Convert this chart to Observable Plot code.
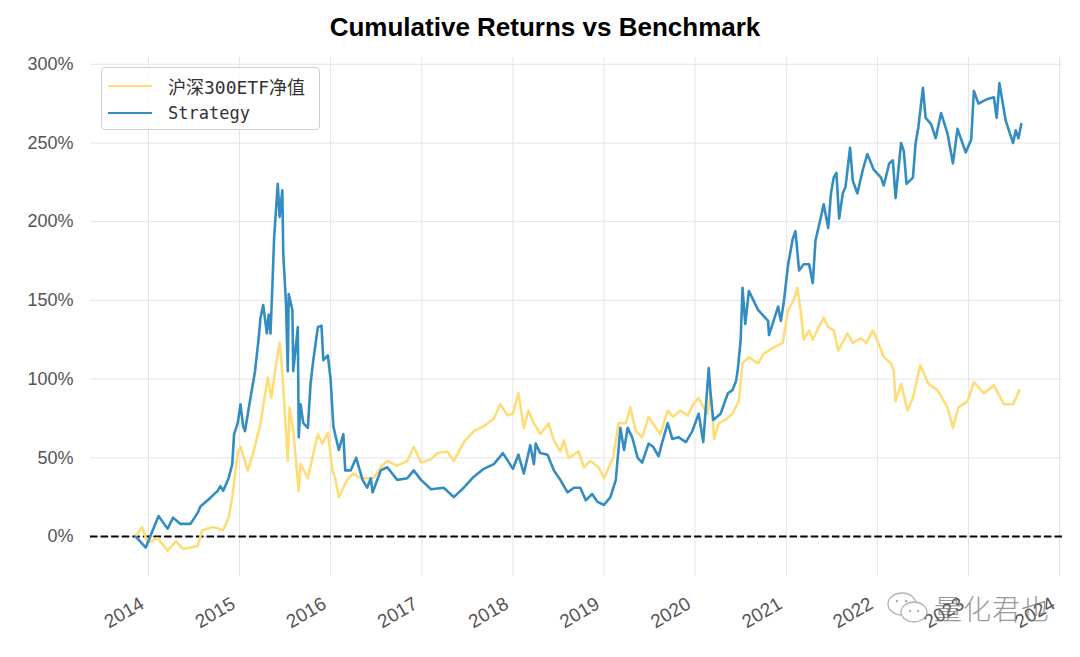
<!DOCTYPE html>
<html>
<head>
<meta charset="utf-8">
<script src="https://cdn.jsdelivr.net/npm/d3@7"></script>
<script src="https://cdn.jsdelivr.net/npm/@observablehq/plot@0.6"></script>
<style>
  html, body { margin: 0; padding: 0; background: #fff; }
  #wrap { position: relative; width: 1080px; height: 657px; overflow: hidden; font-family: "Liberation Sans", Arial, sans-serif; }
  #title { position: absolute; top: 12px; left: 0; width: 1090px; text-align: center; font-weight: bold; font-size: 26px; color: #000; }
  #chart { position: absolute; top: 50px; left: 0; }
  #legend { position: absolute; left: 101px; top: 67px; width: 219px; height: 63px; box-sizing: border-box; border: 1.2px solid #cfcfcf; border-radius: 4px; background: rgba(255,255,255,0.85); }
  .item { position: absolute; left: 6px; height: 20px; display: flex; align-items: center; }
  .swatch { width: 44px; height: 0; border-top: 2.5px solid; margin-right: 16px; }
  .lab { font-family: "DejaVu Sans Mono", "Noto Sans CJK SC", monospace; font-size: 17px; color: #333; white-space: nowrap; }
  .lab.cjk { font-size: 18px; }
  #wm { position: absolute; left: 886px; top: 588px; display: flex; align-items: center; opacity: 0.75; }
  #wm span { font-family: "Noto Sans CJK SC", sans-serif; font-weight: 300; font-size: 28px; color: #777; letter-spacing: 1px; margin-left: 4px; }
</style>
</head>
<body>
<div id="wrap">
  <div id="title">Cumulative Returns vs Benchmark</div>
  <div id="chart"></div>
  <div id="legend">
    <div class="item" style="top:8px"><div class="swatch" style="border-color:#fedd78"></div><div class="lab cjk">沪深300ETF净值</div></div>
    <div class="item" style="top:35px"><div class="swatch" style="border-color:#348dc1"></div><div class="lab">Strategy</div></div>
  </div>
  <div id="wm">
    <svg width="44" height="36" viewBox="0 0 44 36">
      <ellipse cx="16" cy="14" rx="14" ry="11" fill="#fff" stroke="#999" stroke-width="1.3"/>
      <ellipse cx="28" cy="22" rx="13" ry="10" fill="#fff" stroke="#999" stroke-width="1.3"/>
      <circle cx="11" cy="11" r="1.3" fill="#999"/><circle cx="20" cy="11" r="1.3" fill="#999"/>
      <circle cx="24" cy="21" r="1.2" fill="#999"/><circle cx="32" cy="21" r="1.2" fill="#999"/>
    </svg>
    <span>量化君也</span>
  </div>
</div>
<script>
// ---- data (decimal years, cumulative return in %) ----
const benchDates = [2013.86,2013.93,2013.99,2014.10,2014.21,2014.30,2014.38,2014.54,2014.59,2014.71,2014.82,2014.88,2014.92,2014.98,2015.01,2015.09,2015.15,2015.23,2015.31,2015.35,2015.39,2015.44,2015.47,2015.50,2015.53,2015.55,2015.59,2015.65,2015.67,2015.75,2015.80,2015.86,2015.91,2015.97,2016.02,2016.05,2016.09,2016.14,2016.18,2016.25,2016.33,2016.40,2016.47,2016.55,2016.62,2016.73,2016.84,2016.91,2016.99,2017.10,2017.17,2017.28,2017.35,2017.46,2017.57,2017.68,2017.79,2017.86,2017.94,2018.00,2018.06,2018.12,2018.17,2018.23,2018.30,2018.39,2018.45,2018.52,2018.56,2018.61,2018.72,2018.78,2018.85,2018.94,2019.00,2019.10,2019.16,2019.24,2019.29,2019.35,2019.42,2019.49,2019.57,2019.62,2019.70,2019.76,2019.84,2019.92,2019.98,2020.04,2020.09,2020.14,2020.17,2020.21,2020.26,2020.33,2020.41,2020.48,2020.52,2020.59,2020.69,2020.75,2020.86,2020.96,2021.02,2021.08,2021.12,2021.16,2021.19,2021.25,2021.29,2021.34,2021.41,2021.46,2021.52,2021.57,2021.67,2021.73,2021.82,2021.88,2021.95,2022.01,2022.07,2022.15,2022.18,2022.20,2022.26,2022.33,2022.39,2022.47,2022.56,2022.66,2022.77,2022.83,2022.89,2022.99,2023.06,2023.17,2023.28,2023.39,2023.49,2023.56];
const benchValues = [0,6,-4,-1,-9,-3,-8,-6,4,6,4,12,25,53,57,42,53,72,101,88,105,123,104,76,48,82,67,29,46,37,50,65,59,66,42,37,25,31,36,40,37,37,37,44,48,45,48,57,47,49,53,54,48,60,67,70,75,84,77,78,91,69,80,72,65,72,61,54,61,50,54,44,48,44,37,50,72,72,82,67,63,76,69,65,80,76,80,77,84,88,82,78,91,62,72,74,78,86,110,114,110,116,120,123,144,150,158,142,125,131,125,131,139,133,131,118,129,123,126,123,131,123,114,110,105,86,97,80,88,109,97,93,82,69,82,86,98,91,96,84,84,93];
const stratDates = [2013.86,2013.97,2014.11,2014.21,2014.27,2014.35,2014.46,2014.54,2014.57,2014.65,2014.76,2014.79,2014.82,2014.88,2014.92,2014.94,2014.98,2015.01,2015.04,2015.06,2015.12,2015.17,2015.21,2015.23,2015.26,2015.30,2015.32,2015.34,2015.36,2015.38,2015.42,2015.44,2015.47,2015.48,2015.51,2015.53,2015.54,2015.58,2015.59,2015.64,2015.65,2015.67,2015.70,2015.75,2015.78,2015.81,2015.86,2015.90,2015.92,2015.97,2016.00,2016.03,2016.09,2016.14,2016.16,2016.22,2016.28,2016.35,2016.40,2016.44,2016.46,2016.55,2016.62,2016.73,2016.84,2016.91,2016.99,2017.10,2017.24,2017.35,2017.46,2017.57,2017.68,2017.79,2017.89,2018.00,2018.06,2018.12,2018.19,2018.23,2018.25,2018.30,2018.38,2018.45,2018.52,2018.60,2018.67,2018.74,2018.80,2018.87,2018.93,2019.00,2019.07,2019.13,2019.18,2019.22,2019.26,2019.31,2019.37,2019.42,2019.49,2019.54,2019.60,2019.64,2019.70,2019.75,2019.82,2019.90,2019.97,2020.04,2020.09,2020.15,2020.17,2020.20,2020.28,2020.36,2020.41,2020.45,2020.47,2020.50,2020.52,2020.55,2020.59,2020.69,2020.80,2020.81,2020.91,2020.94,2020.97,2021.02,2021.07,2021.10,2021.14,2021.19,2021.25,2021.29,2021.32,2021.38,2021.41,2021.46,2021.49,2021.52,2021.55,2021.58,2021.62,2021.65,2021.70,2021.73,2021.78,2021.84,2021.89,2021.96,2022.04,2022.07,2022.13,2022.17,2022.20,2022.26,2022.29,2022.32,2022.39,2022.42,2022.45,2022.50,2022.53,2022.59,2022.64,2022.70,2022.77,2022.83,2022.88,2022.97,2023.03,2023.06,2023.11,2023.21,2023.28,2023.31,2023.34,2023.41,2023.49,2023.52,2023.55,2023.58];
const stratValues = [0,-7,13,5,12,8,8,15,19,23,29,32,29,37,46,65,72,84,70,67,88,105,126,139,147,129,141,129,158,190,224,203,220,180,148,105,154,144,105,133,63,84,72,69,97,112,133,134,112,115,100,70,55,65,42,42,50,36,31,37,28,42,44,36,37,42,36,30,31,25,31,38,43,46,53,43,52,40,58,46,59,53,52,42,36,28,31,31,23,27,22,20,25,36,69,55,69,63,50,47,59,57,51,60,72,62,63,60,67,78,60,107,91,74,78,91,93,99,107,125,158,135,156,144,137,128,146,137,148,173,189,194,169,173,173,161,188,203,211,196,218,228,231,202,218,222,247,226,218,233,243,233,228,223,237,239,215,250,245,224,228,250,260,285,266,262,253,269,256,237,259,244,252,283,275,278,279,266,288,264,250,258,253,262];
const yearTicks = [2014,2015,2016,2017,2018,2019,2020,2021,2022,2023,2024];
const yTicks = [0,50,100,150,200,250,300];

const toDate = t => { const y = Math.floor(t); const s = Date.UTC(y,0,1), e = Date.UTC(y+1,0,1); return new Date(s + (t - y) * (e - s)); };
const bench = benchDates.map((d,i) => ({date: toDate(d), value: benchValues[i]}));
const strat = stratDates.map((d,i) => ({date: toDate(d), value: stratValues[i]}));
const yearDates = yearTicks.map(y => toDate(y));

const chart = Plot.plot({
  width: 1080,
  height: 607,
  marginLeft: 90,
  marginRight: 18,
  marginTop: 7,
  marginBottom: 81,
  style: {fontFamily: "'Liberation Sans', Arial, sans-serif", fontSize: "18px", color: "#555", background: "#fff", overflow: "visible"},
  x: {type: "utc", domain: [toDate(2013.363), toDate(2024.033)], label: null},
  y: {domain: [-25.4, 304.3], label: null},
  marks: [
    Plot.gridX(yearDates, {stroke: "#e4e4e4", strokeOpacity: 1, strokeWidth: 1}),
    Plot.gridY(yTicks, {stroke: "#e4e4e4", strokeOpacity: 1, strokeWidth: 1}),
    Plot.axisY(yTicks, {tickSize: 0, tickPadding: 17, tickFormat: d => d + "%", fill: "#555", fontSize: 18, label: null}),
    Plot.axisX(yearDates, {tickSize: 0, tickRotate: -30, tickFormat: d => String(d.getUTCFullYear()), textAnchor: "end", lineAnchor: "bottom", tickPadding: 0, dx: -3, dy: 31, fill: "#555", fontSize: 19, label: null}),
    Plot.ruleY([0], {stroke: "#000", strokeWidth: 1.8, strokeDasharray: "7.4,3.2"}),
    Plot.line(bench, {x: "date", y: "value", stroke: "#fedd78", strokeWidth: 2.6}),
    Plot.line(strat, {x: "date", y: "value", stroke: "#348dc1", strokeWidth: 2.6})
  ]
});
document.getElementById("chart").appendChild(chart);
</script>
</body>
</html>
